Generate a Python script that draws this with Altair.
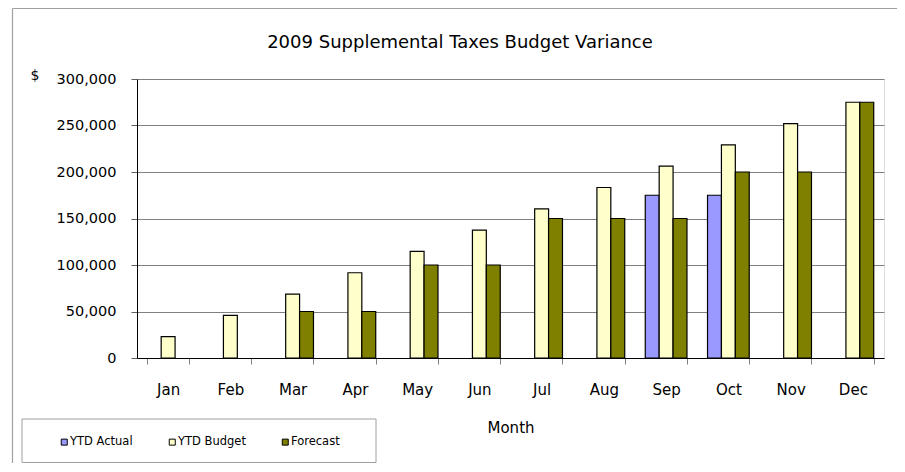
import altair as alt
import pandas as pd

months = ["Jan", "Feb", "Mar", "Apr", "May", "Jun", "Jul", "Aug", "Sep", "Oct", "Nov", "Dec"]
ytd_actual = [None, None, None, None, None, None, None, None, 175000, 175000, None, None]
ytd_budget = [22917, 45833, 68750, 91667, 114583, 137500, 160417, 183333, 206250, 229167, 252083, 275000]
forecast = [None, None, 50000, 50000, 100000, 100000, 150000, 150000, 150000, 200000, 200000, 275000]
series = ["YTD Actual", "YTD Budget", "Forecast"]
colors = ["#9999FF", "#FFFFCC", "#808000"]
y_ticks = [0, 50000, 100000, 150000, 200000, 250000, 300000]
title_text = "2009 Supplemental Taxes Budget Variance"

rows = []
for name, vals in zip(series, [ytd_actual, ytd_budget, forecast]):
    for m, v in zip(months, vals):
        if v is not None:
            rows.append({"Month": m, "Series": name, "Value": v})
df = pd.DataFrame(rows)

FONT = "DejaVu Sans"

bars = alt.Chart(df).mark_bar(stroke="black", strokeWidth=1.2).encode(
    x=alt.X(
        "Month:N",
        sort=months,
        scale=alt.Scale(domain=months, paddingInner=0.33, paddingOuter=0.165),
        axis=alt.Axis(
            title="Month", titleFont=FONT, titleFontSize=15, titleFontWeight="normal",
            titleColor="black", titleBaseline="alphabetic", titleY=74,
            labelAngle=0, labelFont=FONT, labelFontSize=15, labelColor="black",
            labelBaseline="alphabetic", labelPadding=30,
            tickBand="extent", tickSize=6, tickColor="#808080",
            domainColor="black", domainWidth=1, grid=False,
        ),
    ),
    xOffset=alt.XOffset("Series:N", sort=series,
                        scale=alt.Scale(domain=series, paddingInner=0, paddingOuter=0)),
    y=alt.Y(
        "Value:Q",
        scale=alt.Scale(domain=[0, 300000], nice=False),
        axis=alt.Axis(
            title="$", titleAngle=0, titleX=-102.5, titleY=-4, titleAlign="center",
            titleBaseline="middle", titleFont=FONT, titleFontSize=14,
            titleFontWeight="normal", titleColor="black",
            values=y_ticks, format=",d", labelFont=FONT, labelFontSize=14.5,
            labelColor="black", labelPadding=15, tickSize=6, tickColor="#606060",
            grid=True, gridColor="#808080", gridWidth=1,
            domainColor="black", domainWidth=1,
        ),
    ),
    color=alt.Color(
        "Series:N",
        scale=alt.Scale(domain=series, range=colors),
        legend=alt.Legend(
            title=None, orient="none", legendX=-78.5, legendY=357,
            direction="horizontal", symbolType="square", symbolSize=36,
            symbolStrokeColor="black", symbolStrokeWidth=1, symbolOpacity=1,
            labelFont=FONT, labelFontSize=11.5, labelColor="black",
            labelOffset=0, columnPadding=33, padding=0,
        ),
    ),
)

one = pd.DataFrame({"a": [0]})
frame_left = alt.Chart(one).mark_rule(color="#A0A0A0", strokeWidth=1.2).encode(
    x=alt.value(-124.5), y=alt.value(-70.5), y2=alt.value(400)
)
frame_top = alt.Chart(one).mark_rule(color="#A0A0A0", strokeWidth=1.2).encode(
    x=alt.value(-124.5), x2=alt.value(780), y=alt.value(-70.5)
)
legend_box = alt.Chart(one).mark_rect(fill="white", fillOpacity=0, stroke="#A0A0A0", strokeWidth=1).encode(
    x=alt.value(-115), x2=alt.value(239), y=alt.value(340), y2=alt.value(383.5)
)
title_mark = alt.Chart(one).mark_text(
    text=title_text, font=FONT, fontSize=18, color="black",
    align="center", baseline="alphabetic",
).encode(x=alt.value(323), y=alt.value(-31.5))

chart = alt.layer(frame_left, frame_top, legend_box, title_mark, bars).properties(
    width=747,
    height=279,
    autosize=alt.AutoSizeParams(type="none"),
    padding={"left": 129, "top": 71, "right": 13, "bottom": 105},
).configure_view(fill="#C0C0C0", stroke="#808080", strokeWidth=1).configure(background="white")

chart.save("out.html", embed_options={"renderer": "svg", "actions": False})
